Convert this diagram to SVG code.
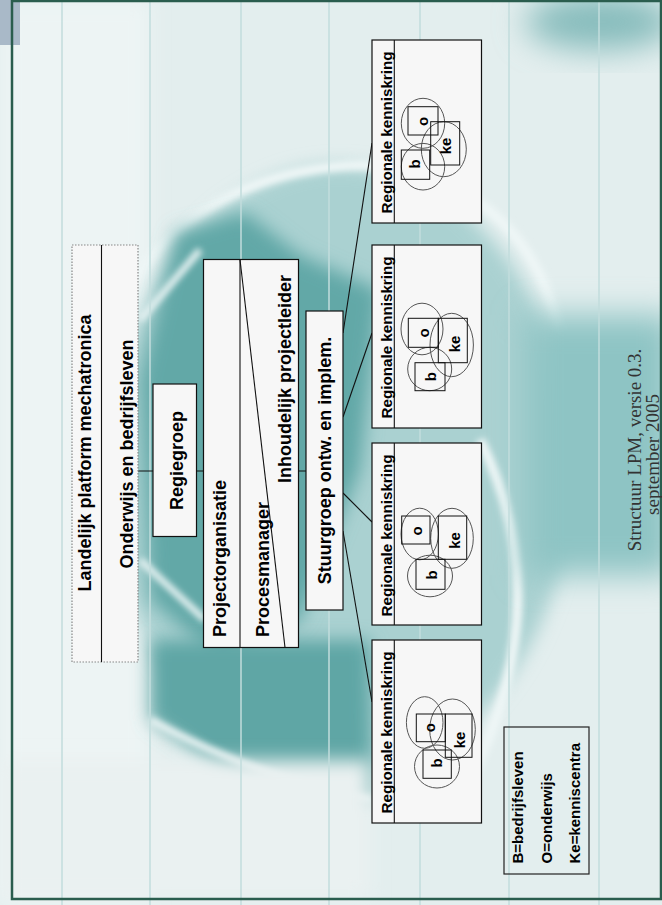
<svg xmlns="http://www.w3.org/2000/svg" width="662" height="905" viewBox="0 0 662 905">
<defs>
<filter id="soft" x="-30%" y="-30%" width="160%" height="160%"><feGaussianBlur stdDeviation="9"/></filter>
<filter id="soft3" x="-40%" y="-40%" width="180%" height="180%"><feGaussianBlur stdDeviation="16"/></filter>
<filter id="soft2" x="-20%" y="-20%" width="140%" height="140%"><feGaussianBlur stdDeviation="3"/></filter>
<style>
.box{fill:#f7f7f7;stroke:#111;stroke-width:1.2}
.dot{fill:#f7f7f7;stroke:#888;stroke-width:1.2;stroke-dasharray:1.5 1.5}
.ln{stroke:#111;stroke-width:1.1;fill:none}
.t{font-family:"Liberation Sans",Arial,sans-serif;font-weight:bold;fill:#000}
.big{font-size:18px}
.rk{font-size:15.2px}
.lab{font-size:15px;text-anchor:middle}
.leg{font-size:15px}
.ell{fill:none;stroke:#555;stroke-width:1}
.sq{fill:none;stroke:#111;stroke-width:1}
.cap{font-family:"Liberation Serif","Times New Roman",serif;font-size:19px;fill:#333;text-anchor:middle}
.grid{stroke:#c2dcdc;stroke-width:1.5}
</style>
</defs>
<g id="background">
<rect x="0" y="0" width="662" height="905" fill="#e3eeee"/>
<rect x="0" y="0" width="150" height="905" fill="#edf4f4" filter="url(#soft)"/>
<ellipse cx="340" cy="470" rx="232" ry="305" fill="#aad1d1" filter="url(#soft)"/>
<path d="M120 300 Q200 170 360 165 Q520 175 560 330" fill="none" stroke="#eef6f6" stroke-width="10" filter="url(#soft2)"/>
<path d="M480 440 Q560 600 470 780" fill="none" stroke="#eef6f6" stroke-width="10" filter="url(#soft2)"/>
<polygon points="175,232 245,212 300,255 380,290 360,470 300,620 220,660 150,600 140,380" fill="#62a8a7" filter="url(#soft)"/>
<polygon points="150,640 370,640 372,800 250,790 150,720" fill="#5fa6a5" filter="url(#soft)"/>
<path d="M150 720 Q260 780 372 800" fill="none" stroke="#e6f2f2" stroke-width="8" filter="url(#soft2)"/>
<path d="M140 320 L200 250 M140 560 L205 620" fill="none" stroke="#e6f2f2" stroke-width="7" filter="url(#soft2)"/>
<rect x="525" y="315" width="150" height="260" fill="#8ec4c4" filter="url(#soft3)"/>
<ellipse cx="600" cy="22" rx="75" ry="28" fill="#86bcbc" filter="url(#soft3)"/>
<rect x="0" y="760" width="370" height="140" fill="#eaf1f1" filter="url(#soft)"/>
<line class="grid" x1="62" y1="0" x2="62" y2="905"/>
<line class="grid" x1="150" y1="0" x2="150" y2="905"/>
<line class="grid" x1="241" y1="0" x2="241" y2="905"/>
<line class="grid" x1="329" y1="0" x2="329" y2="905"/>
<line class="grid" x1="420" y1="0" x2="420" y2="905"/>
<line class="grid" x1="509" y1="0" x2="509" y2="905"/>
<line class="grid" x1="599" y1="0" x2="599" y2="905"/>
<rect x="0" y="0" width="20" height="45" fill="#a9b9c8"/>
<rect x="12" y="1" width="649" height="898" fill="none" stroke="#2a5d4e" stroke-width="2.5"/>
</g>
<g id="connectors">
<line class="ln" x1="138" y1="471" x2="306" y2="471"/>
<line class="ln" x1="343" y1="333" x2="372" y2="143"/>
<line class="ln" x1="343" y1="417" x2="372" y2="333"/>
<line class="ln" x1="343" y1="493" x2="372" y2="522"/>
<line class="ln" x1="343" y1="531" x2="372" y2="702"/>
</g>
<g id="landelijk">
<rect class="dot" x="72" y="245" width="66" height="417"/>
<line class="ln" x1="101.5" y1="245" x2="101.5" y2="662"/>
<text class="t big" text-anchor="middle" transform="translate(91,453) rotate(-90)">Landelijk platform mechatronica</text>
<text class="t big" text-anchor="middle" transform="translate(132.5,454) rotate(-90)">Onderwijs en bedrijfsleven</text>
</g>
<g id="regiegroep">
<rect class="box" x="153" y="384" width="43.5" height="152.5"/>
<text class="t big" text-anchor="middle" transform="translate(182.5,460.5) rotate(-90)">Regiegroep</text>
</g>
<g id="projectorganisatie">
<rect class="box" x="203.5" y="259.5" width="95" height="388"/>
<line class="ln" x1="240" y1="259.5" x2="240" y2="647.5"/>
<line class="ln" x1="240" y1="259.5" x2="285" y2="647.5"/>
<text class="t big" transform="translate(226,637) rotate(-90)">Projectorganisatie</text>
<text class="t big" transform="translate(269,637) rotate(-90)">Procesmanager</text>
<text class="t big" transform="translate(291,483) rotate(-90)">Inhoudelijk projectleider</text>
</g>
<g id="stuurgroep">
<rect class="box" x="306" y="311" width="37" height="299"/>
<text class="t big" text-anchor="middle" transform="translate(331,460.5) rotate(-90)">Stuurgroep ontw. en implem.</text>
</g>
<g id="rk1">
<rect class="box" x="372" y="640" width="109.5" height="183"/>
<line class="ln" x1="394.3" y1="640" x2="394.3" y2="823"/>
<text class="t rk" transform="translate(391.5,813.5) rotate(-90)">Regionale kenniskring</text>
<ellipse class="ell" cx="424.7" cy="722.5" rx="18.3" ry="25.8"/>
<ellipse class="ell" cx="452.5" cy="729.5" rx="22.8" ry="30.5"/>
<ellipse class="ell" cx="437" cy="766.5" rx="22.5" ry="21.5"/>
<rect class="sq" x="416.3" y="714" width="29" height="27.7"/>
<rect class="sq" x="445.3" y="714" width="26.7" height="43.3"/>
<rect class="sq" x="423" y="750" width="28.3" height="28.3"/>
<text class="t lab" transform="translate(435,727.7) rotate(-90)">o</text>
<text class="t lab" transform="translate(465,740) rotate(-90)">ke</text>
<text class="t lab" transform="translate(441.5,763) rotate(-90)">b</text>
</g>
<g id="rk2">
<rect class="box" x="372" y="443" width="109.5" height="182"/>
<line class="ln" x1="394.3" y1="443" x2="394.3" y2="625"/>
<text class="t rk" transform="translate(391.5,616.5) rotate(-90)">Regionale kenniskring</text>
<ellipse class="ell" cx="419.7" cy="534" rx="18.7" ry="25.8"/>
<ellipse class="ell" cx="452" cy="538.3" rx="21.3" ry="30"/>
<ellipse class="ell" cx="430" cy="576" rx="22.5" ry="20.8"/>
<rect class="sq" x="401.7" y="516" width="28.3" height="28"/>
<rect class="sq" x="438.3" y="516" width="28.4" height="43.3"/>
<rect class="sq" x="416" y="559.3" width="29" height="30"/>
<text class="t lab" transform="translate(422,531) rotate(-90)">o</text>
<text class="t lab" transform="translate(460.3,540.5) rotate(-90)">ke</text>
<text class="t lab" transform="translate(437,575) rotate(-90)">b</text>
</g>
<g id="rk3">
<rect class="box" x="372" y="245" width="109.5" height="183"/>
<line class="ln" x1="394.3" y1="245" x2="394.3" y2="428"/>
<text class="t rk" transform="translate(391.5,418.5) rotate(-90)">Regionale kenniskring</text>
<ellipse class="ell" cx="422" cy="329" rx="21" ry="25.8"/>
<ellipse class="ell" cx="451.7" cy="345" rx="21.7" ry="31.7"/>
<ellipse class="ell" cx="429.7" cy="369" rx="22" ry="21.7"/>
<rect class="sq" x="408.3" y="318.3" width="30" height="29"/>
<rect class="sq" x="438.3" y="318.3" width="29" height="44.4"/>
<rect class="sq" x="415" y="362.7" width="30" height="28"/>
<text class="t lab" transform="translate(428.6,333) rotate(-90)">o</text>
<text class="t lab" transform="translate(460.3,344) rotate(-90)">ke</text>
<text class="t lab" transform="translate(436.3,376.7) rotate(-90)">b</text>
</g>
<g id="rk4">
<rect class="box" x="372" y="40" width="109.5" height="183"/>
<line class="ln" x1="394.3" y1="40" x2="394.3" y2="223"/>
<text class="t rk" transform="translate(391.5,213.5) rotate(-90)">Regionale kenniskring</text>
<ellipse class="ell" cx="423" cy="123.3" rx="21.7" ry="25"/>
<ellipse class="ell" cx="443.8" cy="149.2" rx="22.5" ry="27.5"/>
<ellipse class="ell" cx="423" cy="166.7" rx="21.7" ry="23.3"/>
<rect class="sq" x="408" y="106.7" width="30" height="28.3"/>
<rect class="sq" x="430.7" y="121.7" width="29" height="43.3"/>
<rect class="sq" x="401.3" y="150" width="28.4" height="29.3"/>
<text class="t lab" transform="translate(428.3,121.3) rotate(-90)">o</text>
<text class="t lab" transform="translate(451,146) rotate(-90)">ke</text>
<text class="t lab" transform="translate(420,164) rotate(-90)">b</text>
</g>
<g id="legend">
<rect x="504" y="727" width="85" height="147" fill="none" stroke="#222" stroke-width="1.2"/>
<text class="t leg" transform="translate(523.3,863.5) rotate(-90)">B=bedrijfsleven</text>
<text class="t leg" transform="translate(552,863.5) rotate(-90)">O=onderwijs</text>
<text class="t leg" transform="translate(579.7,863.5) rotate(-90)">Ke=kenniscentra</text>
</g>
<g id="caption">
<text class="cap" transform="translate(640.5,450) rotate(-90)">Structuur LPM, versie 0.3.</text>
<text class="cap" transform="translate(659,454.5) rotate(-90)">september 2005</text>
</g>
</svg>
